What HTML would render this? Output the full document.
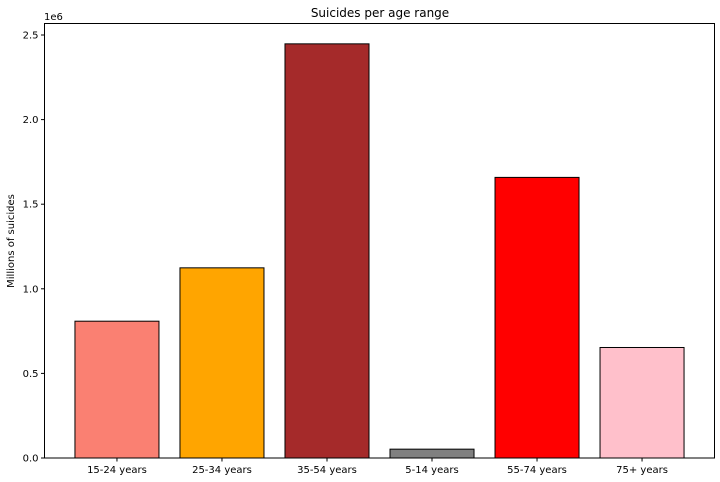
<!DOCTYPE html>
<html><head><meta charset="utf-8"><style>
body{margin:0;background:#fff}
svg{display:block;font-family:"DejaVu Sans","Liberation Sans",sans-serif}
</style></head><body>
<svg id="chart" width="720" height="482">
<rect x="0" y="0" width="720" height="482" fill="#fff"/>
<text x="380" y="17" font-size="12" text-anchor="middle">Suicides per age range</text>
<text x="44" y="20" font-size="10">1e6</text>
<text transform="translate(14,241) rotate(-90)" font-size="10" text-anchor="middle">Millions of suicides</text>
<g id="marks"></g>
<rect x="44.5" y="23.5" width="670" height="434.5" fill="none" stroke="#000" stroke-width="1"/>
</svg>
<script>
const categories=["15-24 years","25-34 years","35-54 years","5-14 years","55-74 years","75+ years"];
const values=[808542,1123912,2447721,52264,1658443,653118];
const colors=["salmon","orange","brown","gray","red","pink"];
const yTicks=[0,0.5e6,1e6,1.5e6,2e6,2.5e6];
const yTickLabels=["0.0","0.5","1.0","1.5","2.0","2.5"];
const L=44.5,R=714.5,T=23.5,B=458;
const xmin=-0.69,xmax=5.69;
const x=i=>L+(i-xmin)/(xmax-xmin)*(R-L);
const y=v=>B-v*(169.2/1e6);
const ns="http://www.w3.org/2000/svg";
const g=document.getElementById('marks');
function mk(t,a){const e=document.createElementNS(ns,t);for(const k in a)e.setAttribute(k,a[k]);g.appendChild(e);return e;}
categories.forEach((c,i)=>{
  const w=0.8*(R-L)/(xmax-xmin);
  const r=mk('rect',{x:x(i)-w/2,y:y(values[i]),width:w,height:B-y(values[i]),fill:colors[i],stroke:'#000','stroke-width':1});
  
  
  const tk=mk('line',{x1:x(i),x2:x(i),y1:B,y2:B+3.5,stroke:'#000'});
  
  
  const t=mk('text',{x:x(i),y:B+15,'font-size':10,'text-anchor':'middle'});
  t.textContent=c;
  
  
});
yTicks.forEach((v,i)=>{
  const tk=mk('line',{x1:L-3.5,x2:L,y1:y(v),y2:y(v),stroke:'#000'});
  
  
  const t=mk('text',{x:L-6,y:y(v)+3.5,'font-size':10,'text-anchor':'end'});
  t.textContent=yTickLabels[i];
  
  
});
</script>
</body></html>
